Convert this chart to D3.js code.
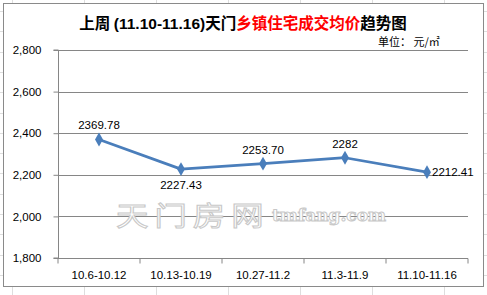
<!DOCTYPE html>
<html lang="zh">
<head>
<meta charset="UTF-8">
<script src="https://cdn.jsdelivr.net/npm/d3@7"></script>
<style>
  body { margin: 0; background: #fff; }
  svg { display: block; font-family: "Liberation Sans", "Noto Sans CJK SC", sans-serif; }
</style>
</head>
<body>
<div id="chart"></div>
<script>
// data
const weeks = ['10.6-10.12', '10.13-10.19', '10.27-11.2', '11.3-11.9', '11.10-11.16'];
const prices = [2369.78, 2227.43, 2253.70, 2282, 2212.41];
const priceLabels = ['2369.78', '2227.43', '2253.70', '2282', '2212.41'];
const labelPos = ['above', 'below', 'above', 'above', 'right'];
const yTicks = [1800, 2000, 2200, 2400, 2600, 2800];

const width = 487, height = 295;
const plot = { left: 58, right: 468, top: 50, bottom: 258 };

const svg = d3.select('#chart').append('svg')
    .attr('width', width)
    .attr('height', height);

// faint spreadsheet grid behind the chart
const bg = svg.append('g').attr('stroke', '#dedede').attr('stroke-width', 1);
d3.range(12, width, 72).forEach(x => {
    bg.append('line').attr('x1', x + 0.5).attr('x2', x + 0.5).attr('y1', 0).attr('y2', height);
});
d3.range(11, height, 20.3).forEach(y => {
    bg.append('line').attr('x1', 0).attr('x2', width).attr('y1', Math.round(y) + 0.5).attr('y2', Math.round(y) + 0.5);
});

// chart frame
svg.append('rect')
    .attr('x', 3.5).attr('y', 3.5)
    .attr('width', 480).attr('height', 283)
    .attr('fill', '#fff')
    .attr('stroke', '#8a8a8a');

const x = d3.scaleBand().domain(weeks).range([plot.left, plot.right]);
const y = d3.scaleLinear().domain([1800, 2800]).range([plot.bottom, plot.top]);

// gridlines
svg.append('g')
    .selectAll('line')
    .data(yTicks.slice(1))
    .join('line')
    .attr('x1', plot.left).attr('x2', plot.right)
    .attr('y1', d => Math.round(y(d)) + 0.5).attr('y2', d => Math.round(y(d)) + 0.5)
    .attr('stroke', '#868686');

// y axis
const yAxis = svg.append('g')
    .attr('transform', `translate(${plot.left + 0.5},0)`)
    .call(d3.axisLeft(y).tickValues(yTicks).tickFormat(d3.format(',')).tickSize(5).tickPadding(12));
yAxis.selectAll('line, path').attr('stroke', '#868686');
yAxis.select('.domain').attr('d', `M-5,${plot.top}H0V${plot.bottom}H-5`);
yAxis.selectAll('text').attr('font-size', 11.5).attr('fill', '#000');

// x axis
const xAxis = svg.append('g')
    .attr('transform', `translate(0,${Math.round(plot.bottom) + 0.5})`)
    .call(d3.axisBottom(x).tickSize(0).tickPadding(12));
xAxis.select('.domain').attr('stroke', '#868686').attr('d', `M${plot.left},0H${plot.right}`);
xAxis.selectAll('text').attr('font-size', 11.5).attr('fill', '#000');
xAxis.selectAll('.edge')
    .data(weeks.concat(['end']))
    .join('line')
    .attr('class', 'edge')
    .attr('x1', (d, i) => plot.left + i * x.bandwidth()).attr('x2', (d, i) => plot.left + i * x.bandwidth())
    .attr('y1', 0).attr('y2', 5)
    .attr('stroke', '#868686');

// watermark
const wm = svg.append('g').attr('fill', '#fff').attr('stroke', '#c8c8c8').attr('stroke-width', 1);
wm.append('text')
    .attr('transform', 'translate(116,226) scale(1.2,1)')
    .attr('font-family', 'Noto Sans CJK SC')
    .attr('font-size', 27).attr('letter-spacing', 5)
    .text('天门房网');
wm.append('text')
    .attr('x', 272).attr('y', 221)
    .attr('font-family', 'DejaVu Serif')
    .attr('font-weight', 'bold')
    .attr('font-size', 17)
    .text('tmfang.com');

// line
const pts = weeks.map((w, i) => [x(w) + x.bandwidth() / 2, y(prices[i])]);
svg.append('path')
    .attr('d', d3.line()(pts))
    .attr('fill', 'none')
    .attr('stroke', '#4a7ebb')
    .attr('stroke-width', 2.75)
    .attr('stroke-linejoin', 'round');

svg.append('g')
    .selectAll('path')
    .data(pts)
    .join('path')
    .attr('transform', d => `translate(${d[0]},${d[1]})`)
    .attr('d', d3.symbol(d3.symbolDiamond, 55))
    .attr('fill', '#4a7ebb');

// value labels
svg.append('g')
    .selectAll('text')
    .data(pts)
    .join('text')
    .attr('x', (d, i) => labelPos[i] === 'right' ? d[0] + 5 : d[0])
    .attr('y', (d, i) => labelPos[i] === 'above' ? d[1] - 10 : labelPos[i] === 'below' ? d[1] + 20 : d[1] + 4)
    .attr('text-anchor', (d, i) => labelPos[i] === 'right' ? 'start' : 'middle')
    .attr('font-size', 11.5)
    .text((d, i) => priceLabels[i]);

// title
const title = svg.append('text')
    .attr('x', 243).attr('y', 29)
    .attr('text-anchor', 'middle')
    .attr('font-family', '"Noto Sans CJK SC", sans-serif')
    .attr('font-size', 15.5)
    .attr('font-weight', 'bold');
title.append('tspan').text('上周 ');
title.append('tspan').attr('font-family', '"Liberation Sans"').text('(11.10-11.16)');
title.append('tspan').text('天门');
title.append('tspan').attr('fill', '#ff0000').text('乡镇住宅成交均价');
title.append('tspan').text('趋势图');

svg.append('text')
    .attr('x', 378).attr('y', 46)
    .attr('font-family', '"Noto Sans CJK SC", sans-serif')
    .attr('font-size', 11)
    .text('单位： 元/㎡');
</script>
</body>
</html>
